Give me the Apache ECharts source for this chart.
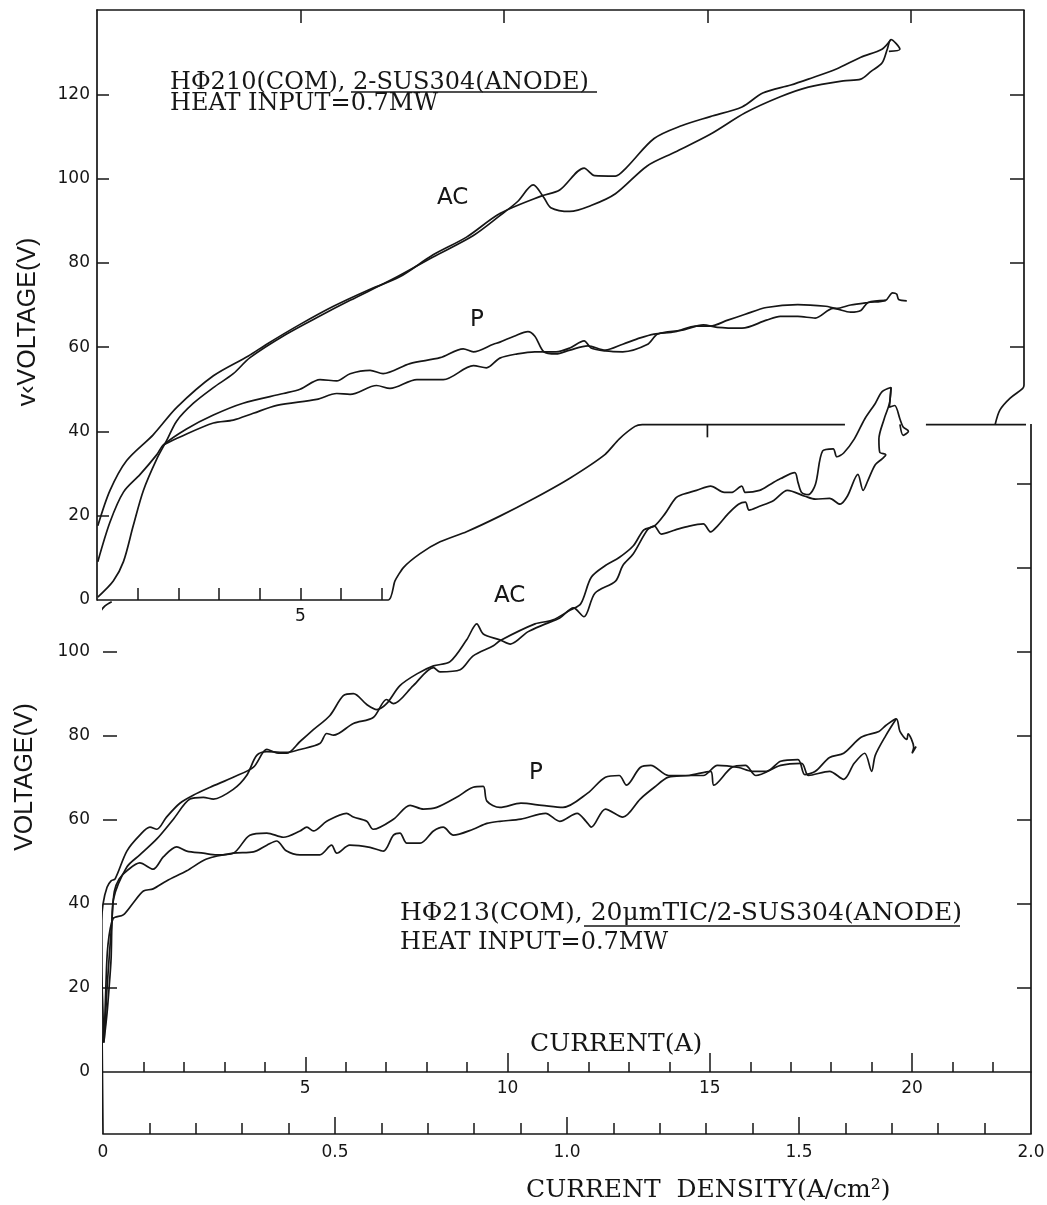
<!DOCTYPE html>
<html><head><meta charset="utf-8">
<script src="https://cdn.jsdelivr.net/npm/echarts@6/dist/echarts.min.js"></script>
<style>html,body{margin:0;padding:0;background:#fff}#c{width:1047px;height:1205px}</style>
</head><body><div id="c"></div>
<script>
const INK = '#161616';
const SERIF = 'DejaVu Serif';
const SANS = 'DejaVu Sans';

// ---------- Top panel (H-phi 210): current (A) vs voltage (V) ----------
const topVoltTicks = [20, 40, 60, 80, 100, 120];
const topVoltLabels = [0, 20, 40, 60, 80, 100, 120];
const topRightTicks = [60, 80, 100, 120];
const topCurrentTicks = [1, 2, 3, 4, 5, 6, 7];
const topCurrentLabels = [5];
const topFrameTicks = [5, 10, 15, 20];

const topAcUpper = [[0.02,17.6],[0.32,26.0],[0.73,33.1],[1.38,39.2],[1.96,45.7],[2.86,53.2],[3.72,57.9],[4.17,60.7],[4.99,65.4],[5.81,69.7],[6.63,73.4],[7.44,76.7],[8.26,81.9],[9.08,86.1],[9.9,91.7],[10.93,95.9],[11.37,97.3],[11.97,102.5],[12.23,100.7],[12.74,100.6],[13.0,102.5],[13.69,109.5],[14.38,112.6],[15.07,114.7],[15.85,117.0],[16.36,120.3],[17.05,122.2],[17.48,123.6],[18.17,126.0],[18.77,128.8],[19.29,130.7],[19.51,133.0]];
const topAcLower = [[0.02,0.7],[0.40,4.5],[0.65,9.1],[0.89,17.6],[1.14,26.0],[1.47,33.5],[1.71,37.8],[1.96,42.5],[2.37,46.7],[2.86,50.4],[3.35,53.7],[3.76,57.5],[4.66,63.1],[5.5,67.5],[6.22,71.1],[7.28,76.2],[8.26,81.4],[9.25,86.5],[9.9,91.2],[10.33,94.5],[10.72,98.5],[10.98,95.5],[11.15,93.1],[11.62,92.2],[12.14,93.6],[12.74,96.4],[13.52,103.0],[14.21,106.3],[15.07,110.5],[15.93,115.6],[16.79,119.4],[17.48,121.7],[18.34,123.2],[18.77,123.6],[19.03,125.5],[19.29,127.4],[19.42,130.7],[19.51,133.0],[19.73,130.7],[19.46,130.2]];
const topPUpper = [[0.02,9.1],[0.32,18.5],[0.65,25.6],[1.06,29.8],[1.47,34.5],[1.63,36.8],[2.20,40.6],[2.86,43.9],[3.59,46.7],[4.58,49.0],[4.99,50.0],[5.48,52.3],[5.89,52.0],[6.22,53.7],[6.71,54.5],[7.03,53.7],[7.69,56.1],[8.43,57.5],[9.0,59.6],[9.25,58.9],[9.74,60.7],[9.9,61.2],[10.25,62.6],[10.59,63.7],[10.76,62.6],[10.98,58.9],[11.28,58.4],[11.62,59.3],[12.06,60.3],[12.49,59.3],[12.92,60.7],[13.35,62.2],[13.69,63.1],[14.21,63.7],[14.72,65.0],[15.07,65.0],[15.5,66.4],[15.93,67.8],[16.45,69.4],[17.22,70.1],[17.91,69.7],[18.17,69.2],[18.52,70.0],[18.95,70.6],[19.38,71.1],[19.55,72.9],[19.65,72.6],[19.7,71.3],[19.9,71.0]];
const topPLower = [[1.63,36.8],[2.04,38.7],[2.86,42.0],[3.35,42.7],[3.84,44.3],[4.42,46.2],[5.40,47.6],[5.89,49.0],[6.22,48.8],[6.87,50.9],[7.2,50.2],[7.86,52.3],[8.51,52.3],[9.25,55.6],[9.57,55.1],[9.9,57.4],[10.33,58.4],[10.76,58.9],[11.28,58.9],[11.62,59.8],[11.97,61.5],[12.14,59.8],[12.49,59.1],[12.92,58.9],[13.52,60.6],[13.78,63.1],[14.38,64.0],[14.9,65.3],[15.24,64.7],[15.85,64.5],[16.45,66.4],[16.79,67.3],[17.22,67.3],[17.65,66.9],[18.09,69.2],[18.52,68.3],[18.77,68.7],[18.95,70.6],[19.38,71.1]];

// cut outline of the top graph (top-panel A / V)
const topCutLeft = [[0,0],[7.16,0],[7.32,4.5],[7.53,7.7],[7.94,11.0],[8.43,13.8],[9.08,16.2],[9.9,19.9],[10.76,24.2],[11.62,28.9],[12.48,34.5],[12.83,38.2],[13.22,41.2],[13.4,41.6],[18.38,41.6]];
const topCutTick = [[15,41.6],[15,38.6]];
const topCutRight = [[20.37,41.6],[22.95,41.6]];
const topRightFrame = [[22.07,41.6],[22.19,45.1],[22.44,47.9],[22.75,50.2],[22.78,51.0],[22.78,140]];

// ---------- Bottom panel (H-phi 213) ----------
const botVoltTicks = [20, 40, 60, 80, 100];
const botVoltLabels = [0, 20, 40, 60, 80, 100];
const botRightTicks = [20, 40, 60, 80, 100, 120, 140];
const botCurrentMinor = [1,2,3,4,6,7,8,9,11,12,13,14,16,17,18,19,21,22];
const botCurrentFive = [5];
const botCurrentMajor = [10, 15, 20];
const botCurrentLabels = [5, 10, 15, 20];
const densityMinor = [0.1,0.2,0.3,0.4,0.6,0.7,0.8,0.9,1.1,1.2,1.3,1.4,1.6,1.7,1.8,1.9];
const densityMajor = [0.5, 1.0, 1.5];
const densityLabels = [0, 0.5, 1.0, 1.5, 2.0];

const botAcA = [[0.02,7],[0.0,14],[-0.03,25],[-0.03,36],[0.0,40],[0.1,44],[0.2,45.5],[0.30,46.0],[0.59,52.6],[0.91,56.4],[1.16,58.3],[1.33,57.8],[1.57,60.7],[1.90,64.0],[2.23,65.9],[2.65,67.8],[3.22,70.2],[3.72,72.6],[4.05,76.8],[4.29,76.0],[4.54,75.9],[4.87,78.7],[5.2,81.5],[5.61,84.9],[5.94,89.6],[6.19,90.1],[6.52,87.5],[6.77,86.3],[7.01,87.7],[7.34,92.0],[7.76,94.8],[8.17,96.7],[8.58,97.7],[8.99,102.9],[9.24,106.7],[9.4,104.3],[9.81,102.9],[10.07,101.9],[10.5,104.8],[10.94,106.7],[11.29,108.1],[11.63,110.5],[11.89,108.4],[12.16,114.0],[12.67,116.9],[12.85,120.6],[13.11,123.4],[13.46,129.1],[13.63,130.0],[13.8,128.1],[14.15,129.1],[14.49,130.0],[14.84,130.5],[15.02,128.6],[15.19,130.0],[15.45,132.9],[15.71,135.2],[15.88,135.7],[15.97,133.8],[16.23,134.7],[16.58,136.1],[16.92,138.5],[17.35,137.1],[17.61,136.4],[17.96,136.6],[18.22,135.2],[18.4,137.1],[18.66,142.3],[18.79,138.5],[18.91,140.9],[19.09,144.6],[19.26,146.0],[19.35,147.0],[19.2,147.6],[19.18,150.7],[19.31,155.5],[19.44,159.2],[19.48,163.0]];
const botAcB = [[0.02,7],[0.1,14],[0.15,20],[0.2,27],[0.22,35],[0.26,41.2],[0.59,48.8],[0.91,51.7],[1.33,55.5],[1.74,60.2],[2.15,65.0],[2.48,65.4],[2.73,65.0],[3.22,67.3],[3.55,70.6],[3.8,75.4],[4.05,76.3],[4.54,76.1],[4.87,76.8],[5.36,78.2],[5.53,80.6],[5.70,80.2],[6.19,83.0],[6.68,84.4],[7.01,88.7],[7.18,87.7],[7.67,92.0],[8.17,96.3],[8.33,95.3],[8.83,95.8],[9.15,99.1],[9.65,101.5],[9.81,102.7],[10.68,106.7],[11.11,107.6],[11.55,110.0],[11.81,111.5],[12.07,117.8],[12.42,120.6],[12.76,122.5],[13.11,125.3],[13.37,129.1],[13.63,130.0],[13.89,132.9],[14.15,136.6],[14.32,137.5],[14.67,138.5],[15.02,139.5],[15.36,138.0],[15.53,138.0],[15.79,139.5],[15.88,138.0],[16.23,138.5],[16.49,139.9],[16.75,141.3],[17.1,142.7],[17.18,140.4],[17.27,138.0],[17.44,137.5],[17.61,139.9],[17.79,147.9],[18.05,148.4],[18.14,146.5],[18.31,147.4],[18.57,150.7],[18.83,155.5],[19.09,159.2],[19.26,162.0],[19.48,163.0],[19.44,158.3],[19.57,158.7],[19.7,155.5],[19.78,153.6],[19.91,152.6],[19.78,151.6],[19.7,154.2]];
const botPUpper = [[0.05,10],[0.1,20],[0.22,36],[0.28,43],[0.4,46],[0.59,47.9],[0.91,49.8],[1.24,48.3],[1.49,51.2],[1.82,53.6],[2.07,52.6],[2.48,52.1],[2.81,51.7],[3.22,52.1],[3.63,56.4],[4.05,56.9],[4.46,55.9],[4.87,57.4],[5.04,58.3],[5.2,57.4],[5.53,59.7],[6.02,61.6],[6.19,60.7],[6.52,59.7],[6.68,57.8],[7.18,60.2],[7.59,63.5],[7.92,62.6],[8.25,63.0],[8.74,65.4],[9.15,67.8],[9.4,68.0],[9.49,64.5],[9.81,63.0],[10.33,64.0],[10.85,63.5],[11.37,63.0],[11.98,66.4],[12.42,70.2],[12.76,70.6],[12.94,68.3],[13.28,72.5],[13.54,73.0],[13.98,70.6],[14.49,70.6],[14.84,70.6],[15.19,73.0],[15.71,72.5],[16.05,71.6],[16.4,71.6],[16.75,74.0],[17.18,74.4],[17.35,70.8],[17.61,71.6],[17.96,74.9],[18.31,75.9],[18.74,79.7],[19.18,81.1],[19.35,82.5],[19.61,84.1],[19.70,81.1],[19.87,79.2],[19.9,80.5],[20.04,77.3],[20.0,75.9],[20.1,77.5]];
const botPLower = [[0.03,8],[0.07,20],[0.12,30],[0.25,36.5],[0.5,37.4],[0.75,40.3],[1.0,43.1],[1.24,43.6],[1.57,45.5],[2.07,47.9],[2.56,50.7],[3.22,52.1],[3.72,52.4],[4.05,54.0],[4.29,55.0],[4.54,52.6],[4.87,51.7],[5.36,51.7],[5.65,54.0],[5.78,52.1],[6.1,54.0],[6.6,53.5],[6.93,52.6],[7.18,56.4],[7.34,56.9],[7.51,54.5],[7.84,54.5],[8.17,57.4],[8.41,58.3],[8.66,56.4],[9.15,57.8],[9.49,59.2],[9.81,59.7],[10.33,60.2],[10.94,61.6],[11.29,59.7],[11.72,61.6],[11.94,59.7],[12.07,58.3],[12.42,62.6],[12.85,60.7],[13.28,65.0],[13.63,67.8],[13.98,70.2],[14.49,70.6],[15.02,71.6],[15.1,68.3],[15.54,72.5],[15.88,73.0],[16.14,70.6],[16.75,73.0],[17.27,73.5],[17.44,70.6],[17.96,71.6],[18.31,69.7],[18.57,73.5],[18.83,75.9],[19.0,71.6],[19.09,75.4],[19.35,80.1],[19.61,84.1]];

const botFrameLeft = [[0.215,112.0],[0.05,111.0],[-0.07,109.3],[-0.09,100.5],[0,-14.76]];
const botFrameRight = [[22.94,154.3],[22.94,-14.76]];

const labelFont = {color: INK, fontFamily: SANS, fontSize: 17};
const tickStyle = {color: INK, width: 1.5};

function curve(data, xi, yi, smooth) {
  return {type: 'line', data: data, xAxisIndex: xi, yAxisIndex: yi, showSymbol: false, symbol: 'none',
    smooth: smooth === undefined ? 0.3 : smooth, clip: false, silent: true, animation: false,
    lineStyle: {color: INK, width: 1.7}, z: 3};
}
function hiddenY(g) { return {gridIndex: g, type: 'value', min: 0, max: 1, show: false}; }
function tickOnlyX(g, max, values, len) {
  return {gridIndex: g, type: 'value', min: 0, max: max, position: 'bottom', axisLine: {show: false, onZero: false},
    splitLine: {show: false},
    axisTick: {show: true, inside: true, length: len, customValues: values, lineStyle: tickStyle},
    axisLabel: {show: false}};
}

const grids = [
  {left: 97, top: 10, width: 927, height: 590},
  {left: 103, top: 424, width: 928, height: 648},
  {left: 103, top: 424, width: 928, height: 648},
  {left: 103, top: 1100, width: 928, height: 34},
  {left: 103, top: 1100, width: 928, height: 34},
  {left: 103, top: 424, width: 928, height: 648}
].map(g => Object.assign({containLabel: false, outerBoundsMode: 'none', show: false}, g));

const option = {
  animation: false,
  backgroundColor: '#ffffff',
  grid: grids,
  xAxis: [
    {gridIndex: 0, type: 'value', min: 0, max: 22.78, position: 'bottom', axisLine: {show: false, onZero: false},
      splitLine: {show: false},
      axisTick: {show: true, inside: true, length: 12, customValues: topCurrentTicks, lineStyle: tickStyle},
      axisLabel: Object.assign({show: true, customValues: topCurrentLabels, margin: 8}, labelFont)},
    {gridIndex: 0, type: 'value', min: 0, max: 22.78, position: 'top', axisLine: {show: true, onZero: false, lineStyle: {color: INK, width: 1.7}},
      splitLine: {show: false},
      axisTick: {show: true, inside: true, length: 13, customValues: topFrameTicks, lineStyle: tickStyle},
      axisLabel: {show: false}},
    {gridIndex: 1, type: 'value', min: 0, max: 22.94, position: 'bottom', axisLine: {show: true, onZero: false, lineStyle: {color: INK, width: 1.7}},
      splitLine: {show: false},
      axisTick: {show: true, inside: true, length: 10, customValues: botCurrentMinor, lineStyle: tickStyle},
      axisLabel: Object.assign({show: true, customValues: botCurrentLabels, margin: 8}, labelFont)},
    tickOnlyX(2, 22.94, botCurrentMajor, 19),
    {gridIndex: 3, type: 'value', min: 0, max: 2.0, position: 'bottom', axisLine: {show: true, onZero: false, lineStyle: {color: INK, width: 1.7}},
      splitLine: {show: false},
      axisTick: {show: true, inside: true, length: 11, customValues: densityMinor, lineStyle: tickStyle},
      axisLabel: Object.assign({show: true, customValues: densityLabels, margin: 10,
        formatter: v => (v === 0 ? '0' : Number(v).toFixed(1))}, labelFont)},
    tickOnlyX(4, 2.0, densityMajor, 17),
    tickOnlyX(5, 22.94, botCurrentFive, 15)
  ],
  yAxis: [
    {gridIndex: 0, type: 'value', min: 0, max: 140, position: 'left', axisLine: {show: true, onZero: false, lineStyle: {color: INK, width: 1.7}},
      splitLine: {show: false},
      axisTick: {show: true, inside: true, length: 12, customValues: topVoltTicks, lineStyle: tickStyle},
      axisLabel: Object.assign({show: true, customValues: topVoltLabels, margin: 7}, labelFont)},
    {gridIndex: 0, type: 'value', min: 0, max: 140, position: 'right', axisLine: {show: false, onZero: false},
      splitLine: {show: false},
      axisTick: {show: true, inside: true, length: 14, customValues: topRightTicks, lineStyle: tickStyle},
      axisLabel: {show: false}},
    {gridIndex: 1, type: 'value', min: 0, max: 154.3, position: 'left', axisLine: {show: false, onZero: false},
      splitLine: {show: false},
      axisTick: {show: true, inside: true, length: 14, customValues: botVoltTicks, lineStyle: tickStyle},
      axisLabel: Object.assign({show: true, customValues: botVoltLabels, margin: 13}, labelFont)},
    {gridIndex: 1, type: 'value', min: 0, max: 154.3, position: 'right', axisLine: {show: false, onZero: false},
      splitLine: {show: false},
      axisTick: {show: true, inside: true, length: 14, customValues: botRightTicks, lineStyle: tickStyle},
      axisLabel: {show: false}},
    hiddenY(2), hiddenY(3), hiddenY(4), hiddenY(5)
  ],
  series: [
    curve(topAcUpper, 0, 0), curve(topAcLower, 0, 0), curve(topPUpper, 0, 0), curve(topPLower, 0, 0),
    curve(topCutLeft, 0, 0, 0.2), curve(topCutTick, 0, 0, false), curve(topCutRight, 0, 0, false), curve(topRightFrame, 0, 0, 0.3),
    curve(botAcA, 2, 2), curve(botAcB, 2, 2), curve(botPUpper, 2, 2), curve(botPLower, 2, 2),
    curve(botFrameLeft, 2, 2, 0.3), curve(botFrameRight, 2, 2, false)
  ],
  graphic: []
};

function txt(text, x, y, family, size, opts) {
  return Object.assign({type: 'text', x: x, y: y, silent: true, z: 10,
    style: {text: text, fill: INK, fontFamily: family, fontSize: size,
      align: 'left', verticalAlign: 'middle', textAlign: 'left', textVerticalAlign: 'middle'}}, opts || {});
}
function rule(x1, x2, y) {
  return {type: 'line', silent: true, z: 10, shape: {x1: x1, y1: y, x2: x2, y2: y}, style: {stroke: INK, lineWidth: 1.4}};
}
option.graphic = [
  txt('HΦ210(COM), 2-SUS304(ANODE)', 170, 83, SERIF, 24),
  txt('HEAT INPUT=0.7MW', 170, 104, SERIF, 24),
  rule(351, 597, 92),
  txt('HΦ213(COM), 20μmTIC/2-SUS304(ANODE)', 400, 913, SERIF, 25),
  txt('HEAT INPUT=0.7MW', 400, 943, SERIF, 24),
  rule(584, 960, 926),
  txt('AC', 437, 198, SANS, 23),
  txt('P', 470, 320, SANS, 23),
  txt('AC', 494, 596, SANS, 23),
  txt('P', 529, 773, SANS, 23),
  txt('CURRENT(A)', 530, 1044, SERIF, 25),
  txt('CURRENT  DENSITY(A/cm²)', 526, 1190, SERIF, 25),
  {type: 'text', x: 28, y: 322, rotation: Math.PI / 2, silent: true, z: 10,
    style: {text: 'v‹VOLTAGE(V)', fill: INK, fontFamily: 'Liberation Sans', fontSize: 25,
      align: 'center', verticalAlign: 'middle', textAlign: 'center', textVerticalAlign: 'middle'}},
  {type: 'text', x: 25, y: 777, rotation: Math.PI / 2, silent: true, z: 10,
    style: {text: 'VOLTAGE(V)', fill: INK, fontFamily: 'Liberation Sans', fontSize: 25,
      align: 'center', verticalAlign: 'middle', textAlign: 'center', textVerticalAlign: 'middle'}}
];

const chart = echarts.init(document.getElementById('c'), null, {renderer: 'canvas', width: 1047, height: 1205});
chart.setOption(option);
</script>
</body></html>
